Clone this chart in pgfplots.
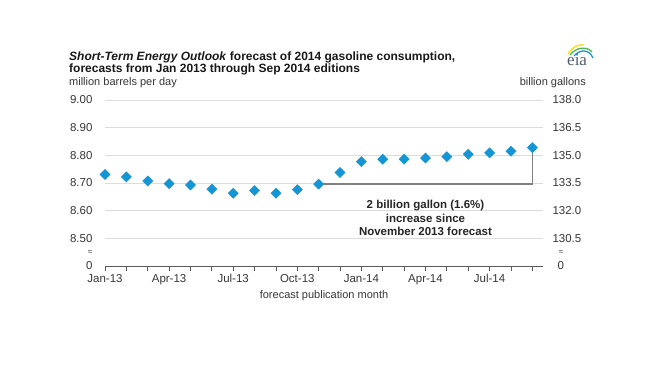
\documentclass[border=0pt]{standalone}
\usepackage{pgfplots}
\pgfplotsset{compat=1.18}
\usepackage{fontspec}
\setmainfont{Liberation Sans}
\newfontfamily\seriffont{Liberation Serif}
\definecolor{eiablue}{RGB}{20,150,212}
\definecolor{txt}{RGB}{55,55,55}
\definecolor{gridc}{RGB}{220,220,220}
\definecolor{brack}{RGB}{128,128,128}
\definecolor{axc}{RGB}{90,90,90}
\definecolor{logo}{RGB}{80,95,110}
\begin{document}
\begin{tikzpicture}
\useasboundingbox (0,0) rectangle (655pt,368pt);
\fill[white] (0,0) rectangle (655pt,368pt);
\node[anchor=base west, inner sep=0, font=\fontsize{12}{13}\selectfont\bfseries, text=black!90] at (69pt,308pt) {\textit{Short-Term Energy Outlook} forecast of 2014 gasoline consumption,};
\node[anchor=base west, inner sep=0, font=\fontsize{12}{13}\selectfont\bfseries, text=black!90] at (69pt,296pt) {forecasts from Jan 2013 through Sep 2014 editions};
\node[anchor=base west, inner sep=0, font=\fontsize{11}{12}\selectfont, text=txt] at (69pt,283pt) {million barrels per day};
\node[anchor=base east, inner sep=0, font=\fontsize{11}{12}\selectfont, text=txt] at (586pt,283pt) {billion gallons};
% logo
\node[anchor=base west, inner sep=0, font=\seriffont\fontsize{17}{18}\selectfont, text=logo] at (567pt,303pt) {eia};
\draw[line width=1.3pt, yellow!80!orange] (568pt,314pt) .. controls (573pt,322pt) and (580pt,324pt) .. (584pt,323pt);
\draw[line width=1.3pt, green!60!black!70] (570pt,313pt) .. controls (576pt,321pt) and (587pt,322pt) .. (592pt,316pt);
\draw[line width=1.3pt, eiablue] (574pt,312pt) .. controls (580pt,319pt) and (589pt,319pt) .. (593pt,310pt);
\begin{axis}[
  at={(105pt,102pt)}, anchor=south west,
  scale only axis, width=438pt, height=166pt,
  xmin=0, xmax=20.5, ymin=8.4, ymax=9.0,
  axis x line*=bottom, axis y line*=left,
  x axis line style={-, draw=axc, line width=0.9pt},
  y axis line style={draw=none},
  ytick={8.4,8.5,8.6,8.7,8.8,8.9,9.0},
  yticklabels={0,8.50,8.60,8.70,8.80,8.90,9.00},
  ytick style={draw=none},
  ymajorgrids, grid style={gridc, line width=0.8pt},
  xtick={0,3,6,9,12,15,18},
  xticklabels={Jan-13,Apr-13,Jul-13,Oct-13,Jan-14,Apr-14,Jul-14},
  minor xtick={0,...,20},
  tick align=outside,
  major tick length=5pt, minor tick length=5pt,
  xtick style={draw=axc, line width=0.8pt},
  minor x tick style={draw=axc, line width=0.8pt},
  ticklabel style={font=\fontsize{11.5}{12}\selectfont, text=txt},
  yticklabel style={xshift=-4pt},
  xlabel={forecast publication month},
  xlabel style={font=\fontsize{11}{12}\selectfont, text=txt, yshift=1pt},
  clip=false,
]
\addplot[brack, line width=1.5pt] coordinates {(10,8.696) (20,8.696) (20,8.812)};
\addplot[only marks, mark=square*, mark size=3.6pt, mark options={rotate=45, fill=eiablue, draw=eiablue}] coordinates {
(0,8.731) (1,8.722) (2,8.707) (3,8.698) (4,8.693) (5,8.678) (6,8.663) (7,8.673) (8,8.663) (9,8.676) (10,8.696)
(11,8.738) (12,8.777) (13,8.786) (14,8.786) (15,8.790) (16,8.795) (17,8.804) (18,8.809) (19,8.815) (20,8.828)};
\node[align=center, font=\fontsize{11.5}{13.5}\selectfont\bfseries, text=black!85] at (axis cs:15,8.573) {2 billion gallon (1.6\%)\\increase since\\November 2013 forecast};
\node[font=\fontsize{8}{9}\selectfont, text=txt, inner sep=0] at (axis cs:0,8.45) [xshift=-15pt] {≈};
\node[font=\fontsize{8}{9}\selectfont, text=txt, inner sep=0] at (axis cs:20.5,8.45) [xshift=18pt] {≈};
\end{axis}
\begin{axis}[
  at={(105pt,102pt)}, anchor=south west,
  scale only axis, width=438pt, height=166pt,
  xmin=0, xmax=20.5, ymin=129, ymax=138,
  hide x axis, axis y line*=right,
  y axis line style={draw=none},
  ytick style={draw=none},
  ytick={129,130.5,132,133.5,135,136.5,138},
  yticklabels={\hspace{5pt}0,130.5,132.0,133.5,135.0,136.5,138.0},
  ticklabel style={font=\fontsize{11.5}{12}\selectfont, text=txt},
  yticklabel style={xshift=6pt},
]
\end{axis}
\end{tikzpicture}
\end{document}
